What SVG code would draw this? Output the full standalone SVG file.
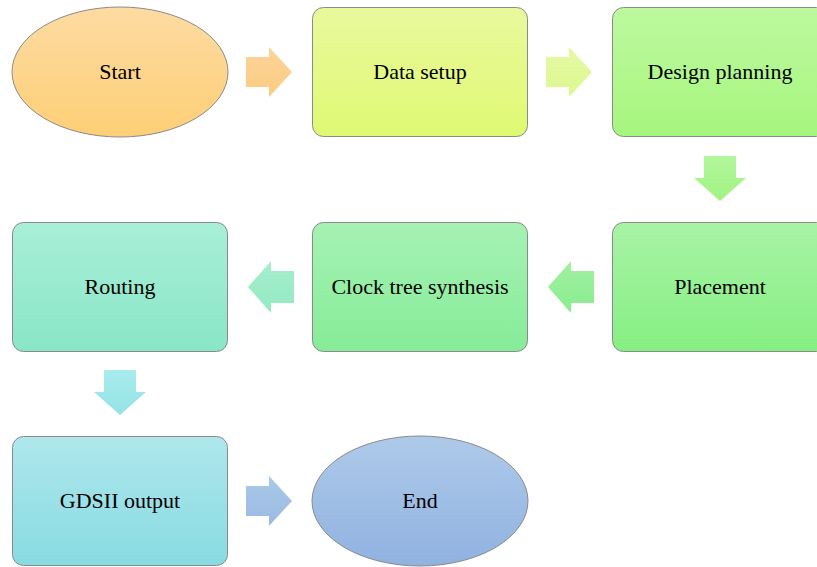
<svg xmlns="http://www.w3.org/2000/svg" width="817" height="567" viewBox="0 0 817 567">
  <defs>
    <linearGradient id="gStart" x1="0" y1="0" x2="0" y2="1"><stop offset="0" stop-color="#fddba2"/><stop offset="1" stop-color="#fdcf76"/></linearGradient>
    <linearGradient id="gA1" x1="0" y1="0" x2="0" y2="1"><stop offset="0" stop-color="#fcd49a"/><stop offset="1" stop-color="#fbcb80"/></linearGradient>
    <linearGradient id="gData" x1="0" y1="0" x2="0" y2="1"><stop offset="0" stop-color="#e8f99e"/><stop offset="1" stop-color="#e0f972"/></linearGradient>
    <linearGradient id="gA2" x1="0" y1="0" x2="0" y2="1"><stop offset="0" stop-color="#e6f9a6"/><stop offset="1" stop-color="#dcf88e"/></linearGradient>
    <linearGradient id="gPlan" x1="0" y1="0" x2="0" y2="1"><stop offset="0" stop-color="#bdf99e"/><stop offset="1" stop-color="#a6f67e"/></linearGradient>
    <linearGradient id="gA3" x1="0" y1="0" x2="0" y2="1"><stop offset="0" stop-color="#b3f69c"/><stop offset="1" stop-color="#a0f382"/></linearGradient>
    <linearGradient id="gPlace" x1="0" y1="0" x2="0" y2="1"><stop offset="0" stop-color="#a8f3a6"/><stop offset="1" stop-color="#86ef82"/></linearGradient>
    <linearGradient id="gA4" x1="0" y1="0" x2="0" y2="1"><stop offset="0" stop-color="#a2f0a2"/><stop offset="1" stop-color="#88ed8e"/></linearGradient>
    <linearGradient id="gCts" x1="0" y1="0" x2="0" y2="1"><stop offset="0" stop-color="#a6f2b4"/><stop offset="1" stop-color="#86ec98"/></linearGradient>
    <linearGradient id="gA5" x1="0" y1="0" x2="0" y2="1"><stop offset="0" stop-color="#a6eecc"/><stop offset="1" stop-color="#93eac2"/></linearGradient>
    <linearGradient id="gRoute" x1="0" y1="0" x2="0" y2="1"><stop offset="0" stop-color="#a9efd8"/><stop offset="1" stop-color="#88e6c6"/></linearGradient>
    <linearGradient id="gA6" x1="0" y1="0" x2="0" y2="1"><stop offset="0" stop-color="#a9ecec"/><stop offset="1" stop-color="#94e2e6"/></linearGradient>
    <linearGradient id="gGds" x1="0" y1="0" x2="0" y2="1"><stop offset="0" stop-color="#aee7ec"/><stop offset="1" stop-color="#88dbe2"/></linearGradient>
    <linearGradient id="gA7" x1="0" y1="0" x2="0" y2="1"><stop offset="0" stop-color="#a9c9e8"/><stop offset="1" stop-color="#9bbae2"/></linearGradient>
    <linearGradient id="gEnd" x1="0" y1="0" x2="0" y2="1"><stop offset="0" stop-color="#aecaea"/><stop offset="1" stop-color="#90b2e0"/></linearGradient>
    <!-- block arrows pointing right / down / left, drawn at the origin -->
    <path id="arrowR" d="M0,-15 H23 V-25 L46,0 L23,25 V15 H0 Z"/>
    <path id="arrowD" d="M-16,0 H16 V22 H26 L0,45 L-26,22 H-16 Z"/>
    <path id="arrowL" d="M0,-16 H-23 V-26 L-46,0 L-23,26 V16 H0 Z"/>
  </defs>
  <style>
    .box { stroke: #8a8a8a; stroke-width: 1; }
    .label { font-size: 22px; fill: #000; text-anchor: middle; }
  </style>

  <g id="connectors">
    <use href="#arrowR" x="246" y="72" fill="url(#gA1)"/>
    <use href="#arrowR" x="546" y="72" fill="url(#gA2)"/>
    <use href="#arrowD" x="720" y="156" fill="url(#gA3)"/>
    <use href="#arrowL" x="594" y="287" fill="url(#gA4)"/>
    <use href="#arrowL" x="294" y="287" fill="url(#gA5)"/>
    <use href="#arrowD" x="120" y="370" fill="url(#gA6)"/>
    <use href="#arrowR" x="246" y="501" fill="url(#gA7)"/>
  </g>

  <g font-family="'Liberation Serif', 'Times New Roman', 'DejaVu Serif', serif">
    <g id="start">
      <ellipse class="box" cx="120" cy="72" rx="108" ry="65" fill="url(#gStart)"/>
      <text class="label" x="120" y="79">Start</text>
    </g>
    <g id="data-setup">
      <rect class="box" x="312.5" y="7.5" width="215" height="129" rx="11" fill="url(#gData)"/>
      <text class="label" x="420" y="79">Data setup</text>
    </g>
    <g id="design-planning">
      <rect class="box" x="612.5" y="7.5" width="215" height="129" rx="11" fill="url(#gPlan)"/>
      <text class="label" x="720" y="79">Design planning</text>
    </g>
    <g id="placement">
      <rect class="box" x="612.5" y="222.5" width="215" height="129" rx="11" fill="url(#gPlace)"/>
      <text class="label" x="720" y="294">Placement</text>
    </g>
    <g id="clock-tree-synthesis">
      <rect class="box" x="312.5" y="222.5" width="215" height="129" rx="11" fill="url(#gCts)"/>
      <text class="label" x="420" y="294">Clock tree synthesis</text>
    </g>
    <g id="routing">
      <rect class="box" x="12.5" y="222.5" width="215" height="129" rx="11" fill="url(#gRoute)"/>
      <text class="label" x="120" y="294">Routing</text>
    </g>
    <g id="gdsii-output">
      <rect class="box" x="12.5" y="436.5" width="215" height="129" rx="11" fill="url(#gGds)"/>
      <text class="label" x="120" y="508">GDSII output</text>
    </g>
    <g id="end">
      <ellipse class="box" cx="420" cy="501" rx="108" ry="65" fill="url(#gEnd)"/>
      <text class="label" x="420" y="508">End</text>
    </g>
  </g>
</svg>
